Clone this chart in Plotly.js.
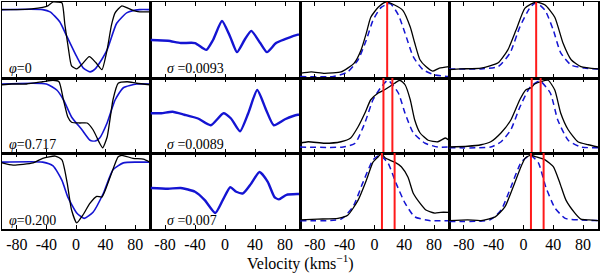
<!DOCTYPE html>
<html><head><meta charset="utf-8">
<script src="https://cdn.plot.ly/plotly-3.0.1.min.js"></script>
<style>body{margin:0;background:#fff}#c{width:600px;height:273px}</style>
</head><body><div id="c"></div>
<script>
// Velocity ticks
const tickVals = [-80, -40, 0, 40, 80];
const tickText = ['-80', '-40', '0', '40', '80'];
const phaseLabels = ['<i>φ</i>=0', '<i>φ</i>=0.717', '<i>φ</i>=0.200'];
const sigmaLabels = ['<i>σ</i> =0.0093', '<i>σ</i> =0.0089', '<i>σ</i> =0.007'];

// Column 1: observed (black) and model (blue) line profiles
const v11b = [-100,-80,-60,-45,-38,-31,-25,-19,-15,-10,-6,1,8,18,27,35,42,48,53,62,70,77,86,100];
const f11b = [0.90,0.90,0.91,0.93,0.95,1.0,1.0,0.99,0.70,0.37,0.16,0.12,0.18,0.28,0.20,0.11,0.37,0.70,0.86,0.95,0.92,0.89,0.87,0.87];
const v11m = [-100,-45,-35,-22,-12,1,10,19,26,32,42,55,69,86,100];
const f11m = [0.90,0.90,0.87,0.74,0.54,0.28,0.13,0.08,0.12,0.20,0.37,0.72,0.86,0.90,0.90];

const v21b = [-100,-87,-67,-45,-31,-23,-17,-11,-6,5,15,23,32,36,42,50,57,69,82,100];
const f21b = [0.91,0.92,0.92,0.95,0.97,0.95,0.71,0.48,0.41,0.40,0.40,0.31,0.13,0.07,0.21,0.71,0.93,0.95,0.93,0.91];
const v21m = [-100,-40,-26,-17,-6,8,19,26,32,42,53,64,82,100];
const f21m = [0.92,0.92,0.84,0.71,0.48,0.31,0.17,0.16,0.20,0.40,0.71,0.87,0.92,0.92];

const v31b = [-100,-85,-58,-45,-28,-19,-12,-6,1,9,19,28,35,46,57,62,77,91,100];
const f31b = [0.87,0.84,0.87,0.93,0.96,0.91,0.61,0.25,0.08,0.18,0.34,0.43,0.42,0.68,0.95,0.97,0.93,0.92,0.88];
const v31m = [-100,-45,-31,-19,-11,1,11,23,37,50,64,82,100];
const f31m = [0.88,0.88,0.83,0.64,0.42,0.21,0.14,0.22,0.47,0.78,0.87,0.88,0.88];

// Column 2: residuals
const v12 = [-99,-76,-59,-40,-25,-16,-4,7,16,26,35,47,56,68,80,97,100];
const f12 = [0.50,0.49,0.46,0.46,0.37,0.50,0.75,0.54,0.34,0.50,0.62,0.46,0.34,0.46,0.51,0.57,0.57];
const v22 = [-99,-85,-70,-54,-36,-19,-2,8,20,31,43,55,65,80,97,100];
const f22 = [0.53,0.53,0.55,0.51,0.46,0.37,0.53,0.46,0.29,0.53,0.84,0.57,0.37,0.45,0.51,0.51];
const v32 = [-99,-76,-59,-40,-27,-13,-3,7,15,24,35,46,57,66,72,82,97,100];
const f32 = [0.54,0.53,0.54,0.49,0.38,0.21,0.38,0.55,0.49,0.47,0.60,0.75,0.62,0.42,0.39,0.45,0.46,0.46];

// Columns 3 and 4: observed (black) and model (blue dashed) profiles
const v13b = [-100,-85,-67,-45,-36,-27,-18,-11,-5,5,15,27,38,48,54,61,69,78,87,100];
const f13b = [0.06,0.08,0.06,0.08,0.13,0.20,0.37,0.59,0.80,0.93,1.0,0.96,0.89,0.67,0.46,0.24,0.15,0.09,0.13,0.15];
const v13m = [-100,-55,-36,-22,-11,-2,9,21,32,41,52,65,81,100];
const f13m = [0.02,0.02,0.08,0.24,0.50,0.76,0.93,0.98,0.83,0.59,0.28,0.11,0.04,0.02];
const v14b = [-100,-84,-57,-34,-21,-10,2,17,29,42,53,64,77,100];
const f14b = [0.11,0.12,0.13,0.20,0.37,0.63,0.92,1.0,0.96,0.80,0.46,0.24,0.15,0.12];
const v14m = [-100,-57,-34,-18,-5,9,17,29,40,50,64,82,100];
const f14m = [0.12,0.12,0.15,0.33,0.67,0.93,0.99,0.89,0.63,0.33,0.17,0.13,0.12];

const v23b = [-100,-89,-67,-45,-32,-22,-13,-5,5,13,21,27,34,41,48,54,61,72,85,95,100];
const f23b = [0.13,0.15,0.13,0.15,0.20,0.35,0.53,0.71,0.80,0.84,0.89,0.93,0.97,0.91,0.71,0.44,0.27,0.17,0.15,0.20,0.17];
const v23m = [-100,-42,-26,-13,-2,9,18,32,41,52,68,85,100];
const f23m = [0.08,0.08,0.13,0.40,0.71,0.88,0.97,0.80,0.53,0.27,0.13,0.08,0.08];
const v24b = [-100,-75,-57,-44,-30,-17,-5,3,10,15,23,33,42,50,60,73,87,100];
const f24b = [0.08,0.09,0.11,0.15,0.27,0.44,0.71,0.84,0.87,0.92,0.95,0.97,0.84,0.53,0.31,0.15,0.11,0.08];
const v24m = [-100,-44,-30,-17,-5,9,22,36,46,60,77,100];
const f24m = [0.07,0.08,0.15,0.31,0.61,0.88,0.96,0.80,0.44,0.17,0.08,0.07];

const v33b = [-100,-76,-49,-36,-22,-11,-2,5,9,15,27,36,45,52,61,69,81,89,100];
const f33b = [0.12,0.13,0.14,0.18,0.38,0.64,0.88,0.95,0.99,0.93,0.88,0.82,0.68,0.47,0.34,0.25,0.21,0.22,0.22];
const v33m = [-100,-45,-29,-16,-2,7,18,29,41,54,75,100];
const f33m = [0.11,0.13,0.29,0.60,0.91,0.97,0.87,0.60,0.34,0.16,0.11,0.11];
const v34b = [-100,-75,-57,-38,-25,-14,-5,2,9,17,29,40,49,57,69,77,88,100];
const f34b = [0.11,0.12,0.11,0.16,0.29,0.55,0.78,0.93,0.97,0.95,0.91,0.82,0.60,0.38,0.21,0.13,0.12,0.11];
const v34m = [-100,-45,-30,-17,-3,9,20,30,42,56,75,100];
const f34m = [0.10,0.12,0.25,0.55,0.88,0.97,0.87,0.55,0.28,0.14,0.12,0.11];

// Red velocity markers per row (columns 3 and 4)
const redRow1 = [17];
const redRow2c3 = [12, 24];
const redRow2c4 = [11, 23];
const redRow3c3 = [10, 27];
const redRow3c4 = [10, 27];

const SERIF = "Times New Roman, Liberation Serif, DejaVu Serif, serif";
const BLACK = '#000000', BLUE = '#1414d2', RED = '#ff1a1a';
const traces = [];
function ax(k){ return k === 1 ? '' : String(k); }
function add(k, x, y, line){
  traces.push({type:'scatter', mode:'lines', x:x, y:y, xaxis:'x'+ax(k), yaxis:'y'+ax(k),
    line:line, hoverinfo:'skip', showlegend:false, cliponaxis:true});
}
const sp = {shape:'spline', smoothing:0.55};
// column 1
[[v11b,f11b,v11m,f11m],[v21b,f21b,v21m,f21m],[v31b,f31b,v31m,f31m]].forEach((d,r)=>{
  const k = r*4+1;
  add(k, d[2], d[3], Object.assign({color:BLUE, width:1.6}, sp));
  add(k, d[0], d[1], Object.assign({color:BLACK, width:1.3}, sp));
});
// column 2
[[v12,f12],[v22,f22],[v32,f32]].forEach((d,r)=>{
  add(r*4+2, d[0], d[1], Object.assign({color:BLUE, width:2.4}, sp));
});
// columns 3, 4
const c34 = [[v13b,f13b,v13m,f13m,redRow1],[v14b,f14b,v14m,f14m,redRow1],
             [v23b,f23b,v23m,f23m,redRow2c3],[v24b,f24b,v24m,f24m,redRow2c4],
             [v33b,f33b,v33m,f33m,redRow3c3],[v34b,f34b,v34m,f34m,redRow3c4]];
c34.forEach((d,i)=>{
  const r = Math.floor(i/2), c = 3 + (i%2);
  const k = r*4 + c;
  add(k, d[2], d[3], Object.assign({color:BLUE, width:1.5, dash:'6px,4px'}, sp));
  add(k, d[0], d[1], Object.assign({color:BLACK, width:1.3}, sp));
  d[4].forEach(v=>add(k, [v,v], [0,1], {color:RED, width:2}));
});

const W = 600, H = 273, L = 2, R = 598, T = 2, B = 229;
const colPx = [2, 150, 300, 449, 598];
const rowPx = [2, 78, 153, 229];
const fx = p => (p - L)/(R - L);
const fy = p => (B - p)/(B - T);
const layout = {
  width:W, height:H, margin:{l:L, r:W-R, t:T, b:H-B},
  paper_bgcolor:'#fff', plot_bgcolor:'#fff',
  font:{family:SERIF, color:'#000', size:14},
  showlegend:false, annotations:[]
};
for (let r=0;r<3;r++){
  for (let c=0;c<4;c++){
    const k = r*4+c+1;
    layout['xaxis'+ax(k)] = {
      domain:[fx(colPx[c]), fx(colPx[c+1])], anchor:'y'+ax(k),
      range:[-100,100], tickvals:tickVals, ticktext:tickText,
      showticklabels: r===2, ticks:'inside', ticklen:4, tickwidth:1, tickcolor:'#000',
      showline:true, linecolor:'#000', linewidth:1.5, mirror:'ticks',
      showgrid:false, zeroline:false, fixedrange:true,
      tickfont:{size:16, family:SERIF}
    };
    layout['yaxis'+ax(k)] = {
      domain:[fy(rowPx[r+1]), fy(rowPx[r])], anchor:'x'+ax(k),
      range:[0,1], showticklabels:false, ticks:'',
      showline:true, linecolor:'#000', linewidth:1.5, mirror:true,
      showgrid:false, zeroline:false, fixedrange:true
    };
  }
  const labY = fy(rowPx[r+1] - 9);
  layout.annotations.push({text:phaseLabels[r], xref:'paper', yref:'paper',
    x:fx(7), y:labY, xanchor:'left', yanchor:'middle', showarrow:false,
    font:{size:14, family:SERIF}});
  layout.annotations.push({text:sigmaLabels[r], xref:'paper', yref:'paper',
    x:fx(165), y:labY, xanchor:'left', yanchor:'middle', showarrow:false,
    font:{size:14, family:SERIF}});
}
layout.annotations.push({text:'Velocity (kms<sup>−1</sup>)', xref:'paper', yref:'paper',
  x:0.5, y:fy(262), xanchor:'center', yanchor:'middle', showarrow:false,
  font:{size:16, family:SERIF}});

Plotly.newPlot('c', traces, layout, {staticPlot:true, displayModeBar:false});
</script>
</body></html>
